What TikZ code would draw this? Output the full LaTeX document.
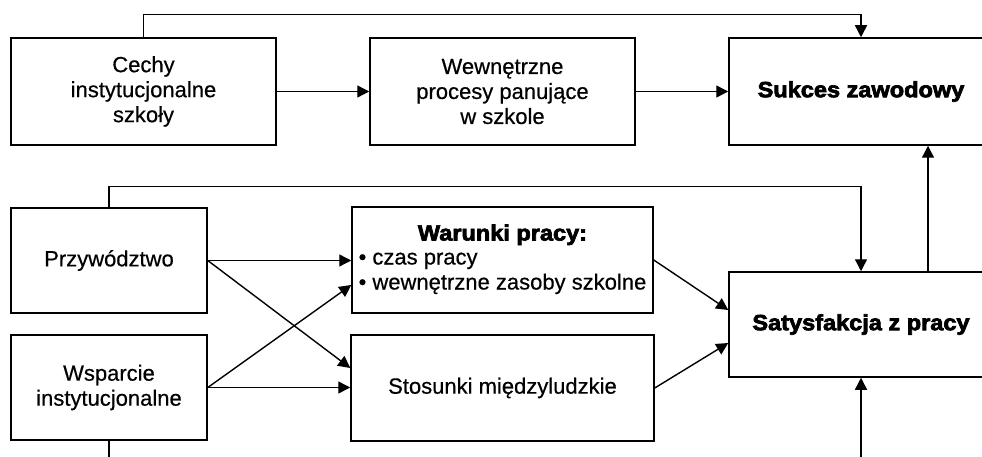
\documentclass[tikz,border=0pt]{standalone}
\usepackage{fontspec}
\setmainfont[FakeBold=0.5]{Liberation Sans}
\newfontfamily\heavy[FakeBold=3.2,FakeStretch=1.07]{Liberation Sans Bold}
\usetikzlibrary{arrows.meta,calc}
\begin{document}
\begin{tikzpicture}[x=1pt,y=-1pt,
  box/.style={draw,line width=1.5pt,rectangle,inner sep=4pt,align=center,
    font=\fontsize{22}{25}\selectfont},
  conn/.style={line width=1.4pt},
  arr/.style={conn,-{Triangle[length=12pt,width=12pt]}}]
\clip (0,0) rectangle (982,457);
% top row
\node[box,minimum width=265pt,minimum height=107pt] (cechy) at (143.5,91.5) {Cechy\\instytucjonalne\\szkoły};
\node[box,minimum width=265pt,minimum height=107pt] (wewn) at (502.5,91.5) {Wewnętrzne\\procesy panujące\\w szkole};
\node[box,minimum width=264pt,minimum height=107pt] (sukces) at (861,91.5) {\heavy Sukces zawodowy};
% lower part
\node[box,minimum width=196pt,minimum height=105pt] (przyw) at (109,260.5) {Przywództwo};
\node[box,minimum width=196pt,minimum height=105pt] (wsp) at (109,387.5) {Wsparcie\\instytucjonalne};
\node[box,minimum width=301pt,minimum height=106pt] (warunki) at (502.5,260) {%
  \begin{tabular}{@{}l@{}}
  \multicolumn{1}{@{}c@{}}{\heavy Warunki pracy:}\\[-1pt]
  • czas pracy\\
  • wewnętrzne zasoby szkolne
  \end{tabular}};
\node[box,minimum width=303pt,minimum height=106pt] (stos) at (502.5,388) {Stosunki międzyludzkie};
\node[box,minimum width=264pt,minimum height=105pt] (satys) at (861,324.5) {\heavy Satysfakcja z pracy};
% helper coordinates
\coordinate (upx) at (928,0);
\coordinate (bottom) at (0,470);
% connectors top
\draw[arr] (cechy) -- (wewn);
\draw[arr] (wewn) -- (sukces);
\draw[arr] (cechy.north) -- ++(0,-23) -| (sukces.north);
\draw[arr] (satys.north -| upx) -- (sukces.south -| upx);
% connectors lower
\draw[arr] (przyw.north) -- ++(0,-21) -| (satys.north);
\draw[arr] (przyw.east) -- (przyw.east -| warunki.west);
\draw[arr] (przyw.east) -- ($(stos.west)+(0,-20)$);
\draw[arr] (wsp.east) -- ($(warunki.west)+(0,25)$);
\draw[arr] (wsp.east) -- (wsp.east -| stos.west);
\draw[arr] (warunki.east) -- ($(satys.west)+(0,-14.5)$);
\draw[arr] (stos.east) -- ($(satys.west)+(0,18.5)$);
\draw[conn] (wsp.south) -- (wsp.south |- bottom);
\draw[arr] (satys.south |- bottom) -- (satys.south);
\end{tikzpicture}
\end{document}
